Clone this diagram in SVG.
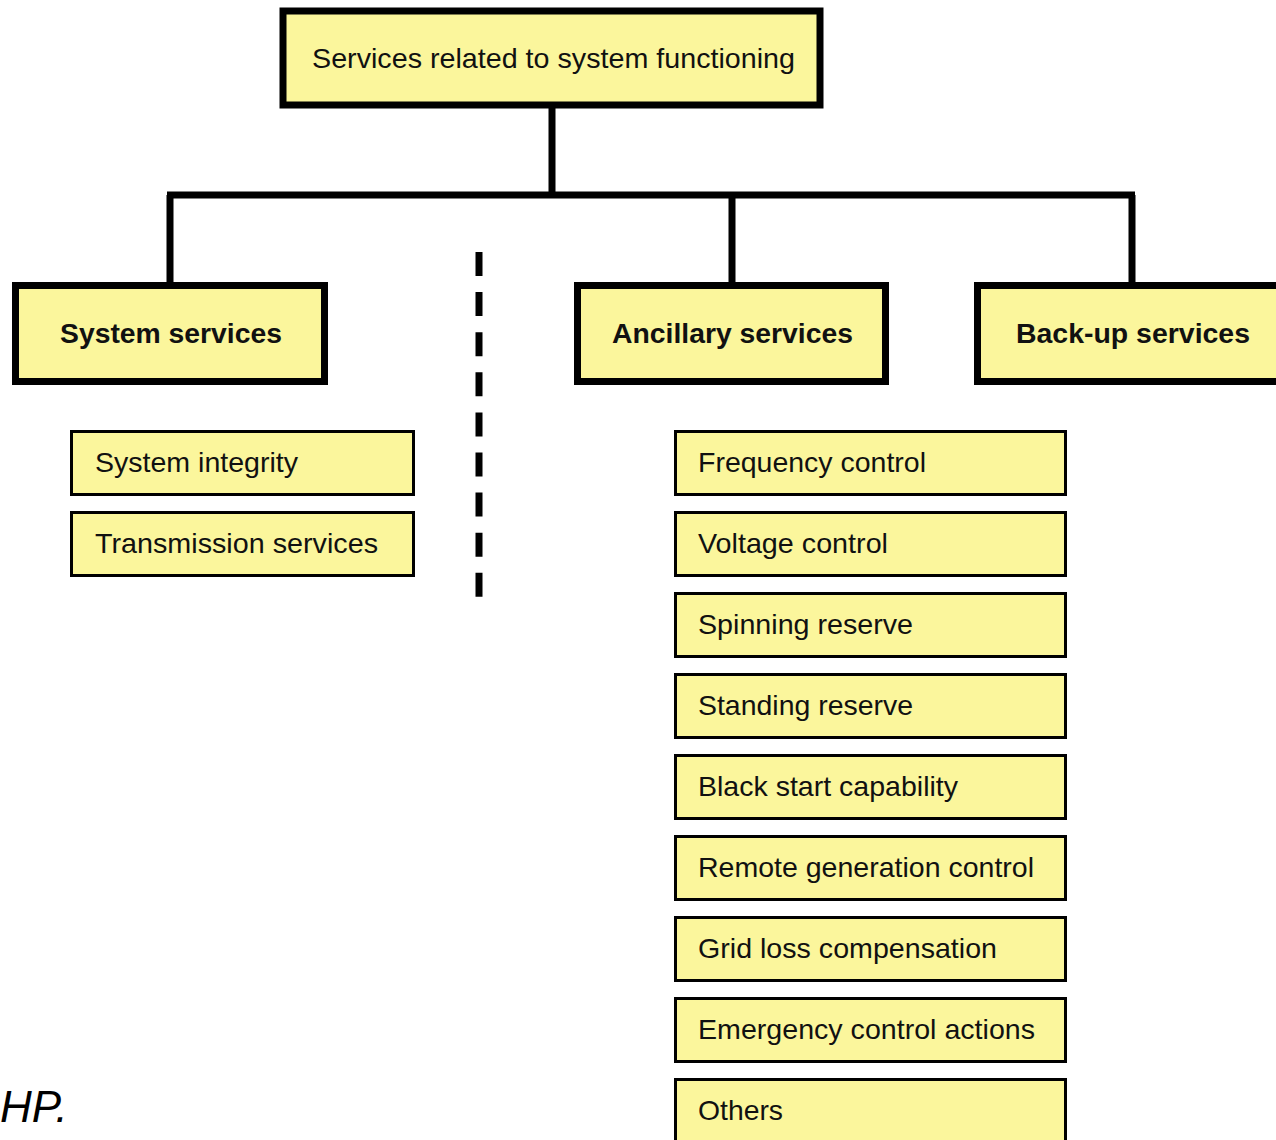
<svg xmlns="http://www.w3.org/2000/svg" width="1276" height="1140" viewBox="0 0 1276 1140">
<style>
.box{fill:#FBF69C;stroke:#000;}
.thick{stroke-width:7;}
.thin{stroke-width:3;}
.lbl{font-family:"Liberation Sans",Arial,sans-serif;font-size:28px;fill:#111;}
.hdr{font-family:"Liberation Sans",Arial,sans-serif;font-size:28px;font-weight:bold;fill:#111;text-anchor:middle;}
.conn{stroke:#000;stroke-width:7;fill:none;}
</style>
<rect width="1276" height="1140" fill="#fff"/>
<g id="connectors">
<path class="conn" d="M552 107V195M167 195H1135M170 195V284M732 195V284M1132 195V284"/>
<path id="divider" d="M479 252V598" stroke="#000" stroke-width="7" stroke-dasharray="24 16.1"/>
</g>
<g id="root">
<rect class="box" x="283" y="11" width="537" height="94" stroke-width="7"/>
<text class="lbl" x="312" y="68" textLength="483" lengthAdjust="spacingAndGlyphs">Services related to system functioning</text>
</g>
<g id="system-services">
<rect class="box thick" x="15.5" y="285.5" width="309" height="96"/>
<text class="hdr" x="171" y="343" textLength="222" lengthAdjust="spacingAndGlyphs">System services</text>
</g>
<g id="ancillary-services">
<rect class="box thick" x="577.5" y="285.5" width="308" height="96"/>
<text class="hdr" x="732.5" y="343" textLength="241" lengthAdjust="spacingAndGlyphs">Ancillary services</text>
</g>
<g id="backup-services">
<rect class="box thick" x="977.5" y="285.5" width="310" height="96"/>
<text class="hdr" x="1133" y="343" textLength="234" lengthAdjust="spacingAndGlyphs">Back-up services</text>
</g>
<g id="system-integrity">
<rect class="box thin" x="71.5" y="431.5" width="342" height="63"/>
<text class="lbl" x="95" y="472" textLength="203" lengthAdjust="spacingAndGlyphs">System integrity</text>
</g>
<g id="transmission-services">
<rect class="box thin" x="71.5" y="512.5" width="342" height="63"/>
<text class="lbl" x="95" y="553" textLength="283" lengthAdjust="spacingAndGlyphs">Transmission services</text>
</g>
<g id="frequency-control">
<rect class="box thin" x="675.5" y="431.5" width="390" height="63"/>
<text class="lbl" x="698" y="472" textLength="228" lengthAdjust="spacingAndGlyphs">Frequency control</text>
</g>
<g id="voltage-control">
<rect class="box thin" x="675.5" y="512.5" width="390" height="63"/>
<text class="lbl" x="698" y="553" textLength="190" lengthAdjust="spacingAndGlyphs">Voltage control</text>
</g>
<g id="spinning-reserve">
<rect class="box thin" x="675.5" y="593.5" width="390" height="63"/>
<text class="lbl" x="698" y="634" textLength="215" lengthAdjust="spacingAndGlyphs">Spinning reserve</text>
</g>
<g id="standing-reserve">
<rect class="box thin" x="675.5" y="674.5" width="390" height="63"/>
<text class="lbl" x="698" y="715" textLength="215" lengthAdjust="spacingAndGlyphs">Standing reserve</text>
</g>
<g id="black-start">
<rect class="box thin" x="675.5" y="755.5" width="390" height="63"/>
<text class="lbl" x="698" y="796" textLength="260" lengthAdjust="spacingAndGlyphs">Black start capability</text>
</g>
<g id="remote-generation">
<rect class="box thin" x="675.5" y="836.5" width="390" height="63"/>
<text class="lbl" x="698" y="877" textLength="336" lengthAdjust="spacingAndGlyphs">Remote generation control</text>
</g>
<g id="grid-loss">
<rect class="box thin" x="675.5" y="917.5" width="390" height="63"/>
<text class="lbl" x="698" y="958" textLength="299" lengthAdjust="spacingAndGlyphs">Grid loss compensation</text>
</g>
<g id="emergency-control">
<rect class="box thin" x="675.5" y="998.5" width="390" height="63"/>
<text class="lbl" x="698" y="1039" textLength="337" lengthAdjust="spacingAndGlyphs">Emergency control actions</text>
</g>
<g id="others">
<rect class="box thin" x="675.5" y="1079.5" width="390" height="70"/>
<text class="lbl" x="698" y="1120" textLength="85" lengthAdjust="spacingAndGlyphs">Others</text>
</g>
<text x="0" y="1122" font-family="Liberation Sans,Arial,sans-serif" font-size="44" font-style="italic" fill="#000">HP.</text>
</svg>
